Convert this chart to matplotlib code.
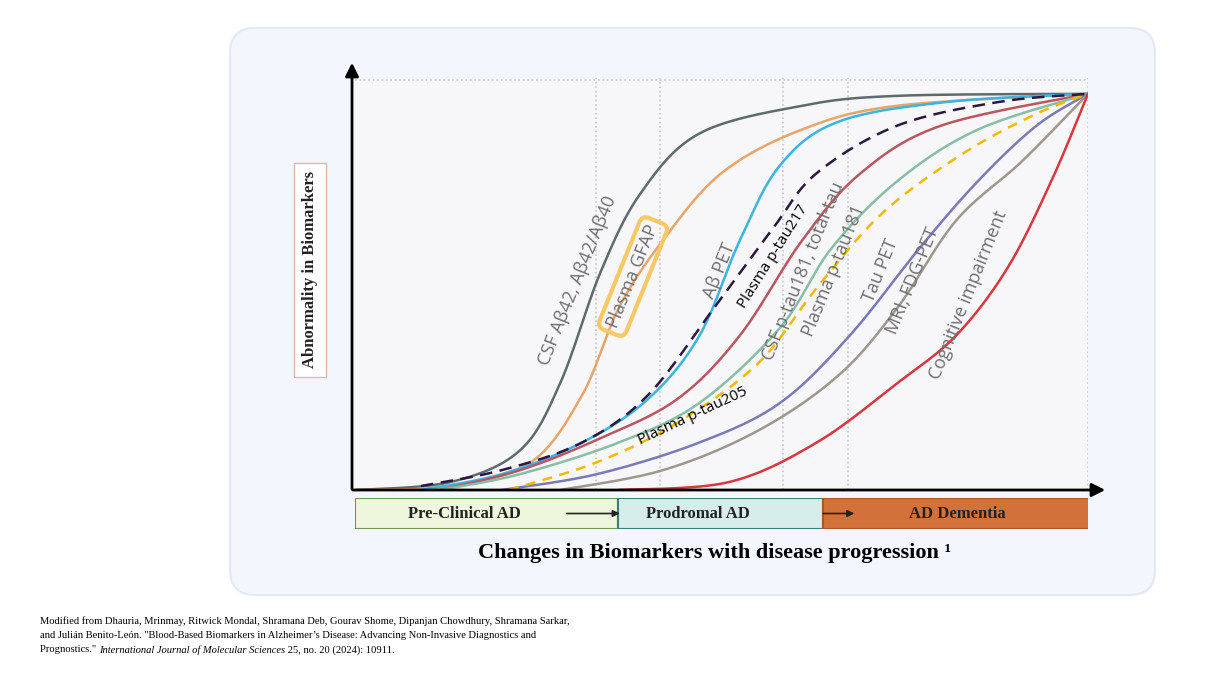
import matplotlib

matplotlib.use("Agg")
import matplotlib.pyplot as plt
import numpy as np
from matplotlib.patches import FancyArrowPatch, FancyBboxPatch, Rectangle

# curve points: x = disease progression (0-100), y = abnormality (0-100)
csf_abeta_x = [0, 13, 22.5, 28, 33.5, 39, 47, 61, 74, 100]
csf_abeta_y = [0, 2, 10, 27, 55, 75, 90, 97, 99.5, 100]
gfap_x = [0, 13, 24, 31, 36, 42, 50, 61, 74, 100]
gfap_y = [0, 1, 7, 24, 46, 63, 80, 91, 97, 100]
abeta_pet_x = [9, 20, 31, 40, 47, 52.5, 58, 66, 81, 100]
abeta_pet_y = [0, 4, 12, 23, 39, 63, 82, 93, 98, 100]
ptau217_x = [9, 20, 31, 40, 49, 57, 63, 74, 88, 100]
ptau217_y = [1, 5, 12, 24, 46, 66, 80, 92, 98, 100]
csf_ptau181_x = [11.6, 22.5, 33.4, 44, 52.5, 61, 69, 80, 100]
csf_ptau181_y = [0, 5, 13, 23, 39, 63, 80, 92, 100]
plasma_ptau181_x = [11.6, 22.5, 36, 47, 58, 65, 74, 85, 100]
plasma_ptau181_y = [0, 4, 12, 22, 41, 61, 78, 91, 100]
ptau205_x = [21, 33, 44, 55, 63, 72, 83, 93, 100]
ptau205_y = [0, 7, 17, 32, 51, 70, 85, 95, 100]
tau_pet_x = [20, 33, 47, 58, 67.5, 77, 85, 93, 100]
tau_pet_y = [0, 4, 12, 22, 39, 61, 78, 92, 100]
mri_x = [28, 42, 55, 66, 74, 82, 91, 100]
mri_y = [0, 5, 15, 29, 46, 68, 83, 100]
cognitive_x = [36, 51, 63, 74, 82, 89, 95, 100]
cognitive_y = [0, 2, 12, 27, 39, 56, 78, 100]

stages = ["Pre-Clinical AD", "Prodromal AD", "AD Dementia"]
stage_edges = [0, 35.9, 63.8, 100.5]
guide_lines = [32.9, 41.6, 58.4, 67.2]

citation = [
    "Modified from Dhauria, Mrinmay, Ritwick Mondal, Shramana Deb, Gourav Shome, Dipanjan Chowdhury, Shramana Sarkar,",
    "and Julián Benito-León. \"Blood-Based Biomarkers in Alzheimer\u2019s Disease: Advancing Non-Invasive Diagnostics and",
]
citation_last = ["Prognostics.\" ", "International Journal of Molecular Sciences", " 25, no. 20 (2024): 10911."]


def smooth(xs, ys, n=20):
    # catmull-rom through the read points, just for drawing
    p = np.column_stack([xs, ys]).astype(float)
    p = np.vstack([p[0], p, p[-1]])
    out = []
    for i in range(1, len(p) - 2):
        p0, p1, p2, p3 = p[i - 1], p[i], p[i + 1], p[i + 2]
        t = np.linspace(0, 1, n, endpoint=False)[:, None]
        out.append(0.5 * (2 * p1 + (-p0 + p2) * t + (2 * p0 - 5 * p1 + 4 * p2 - p3) * t ** 2
                          + (-p0 + 3 * p1 - 3 * p2 + p3) * t ** 3))
    out.append(p[-2][None, :])
    out = np.vstack(out)
    return out[:, 0], out[:, 1]


W, H = 1224, 676
fig = plt.figure(figsize=(12.24, 6.76), dpi=100)
fig.patch.set_facecolor("white")

# background card as its own axes so it sits under everything
bg = fig.add_axes([0, 0, 1, 1], zorder=-10)
bg.set_xlim(0, W)
bg.set_ylim(H, 0)
bg.axis("off")
bg.add_patch(FancyBboxPatch((230, 28), 925, 567, boxstyle="round,pad=0,rounding_size=25",
                            facecolor="#f3f6fc", edgecolor="#e2e8f4", linewidth=1.5))

ax = fig.add_axes([355 / W, 1 - 490 / H, 733 / W, 412 / H])
ax.set_facecolor("#f7f7f9")
ax.set_xlim(0, 100)
ax.set_ylim(0, 104)
for s in ax.spines.values():
    s.set_visible(False)
ax.set_xticks([])
ax.set_yticks([])

for gx in guide_lines:
    ax.axvline(gx, color="#c8c8c8", linestyle=":", linewidth=1.2)
ax.axhline(103.5, color="#c8c8c8", linestyle=":", linewidth=1.2)
ax.axvline(100, color="#c8c8c8", linestyle=":", linewidth=1.2)

series = [
    (csf_abeta_x, csf_abeta_y, "#5d6a6e", "-"),
    (gfap_x, gfap_y, "#e8a56a", "-"),
    (abeta_pet_x, abeta_pet_y, "#3bb4e0", "-"),
    (csf_ptau181_x, csf_ptau181_y, "#bb5560", "-"),
    (plasma_ptau181_x, plasma_ptau181_y, "#86bfa5", "-"),
    (tau_pet_x, tau_pet_y, "#7c79b8", "-"),
    (mri_x, mri_y, "#9d978d", "-"),
    (cognitive_x, cognitive_y, "#d9363e", "-"),
    (ptau205_x, ptau205_y, "#f5b800", (0, (4, 3))),
    (ptau217_x, ptau217_y, "#2b1840", (0, (5, 3))),
]
for xs, ys, color, ls in series:
    sx, sy = smooth(xs, ys)
    ax.plot(sx, sy, color=color, linestyle=ls, linewidth=1.8, solid_capstyle="round")


def px(x, y):
    return (x - 355) / 7.33, (490 - y) / 4.12 * 1.0


gray = "#6e6e6e"
labels = [
    ("CSF A\u03b242, A\u03b242/A\u03b240", 578, 272, 68, gray, 13),
    ("A\u03b2 PET", 720, 262, 68, gray, 13),
    ("CSF p-tau181, total-tau", 803, 262, 68, gray, 13),
    ("Plasma p-tau181", 834, 262, 68, gray, 13),
    ("Tau PET", 881, 262, 68, gray, 13),
    ("MRI, FDG-PET", 913, 272, 68, gray, 13),
    ("Cognitive impairment", 968, 287, 68, gray, 13),
    ("Plasma p-tau217", 773, 247, 58, "black", 11),
    ("Plasma p-tau205", 693, 413, 25, "black", 11),
]
for text, x, y, rot, color, size in labels:
    ax.text(*px(x, y), text, rotation=rot, color=color, fontsize=size,
            ha="center", va="center", family="Open Sans", rotation_mode="anchor")
ax.text(*px(633, 268), "Plasma GFAP", rotation=68, color=gray, fontsize=13,
        ha="center", va="center", family="Open Sans", rotation_mode="anchor",
        bbox=dict(boxstyle="round,pad=0.3,rounding_size=0.4", facecolor="none",
                  edgecolor="#f8c865", linewidth=3))

# axis arrows
fig.add_artist(FancyArrowPatch(
    (352 / W, 1 - 492 / H), (352 / W, 1 - 60 / H), transform=fig.transFigure,
    arrowstyle="-|>,head_length=8,head_width=4", color="black", linewidth=2))
fig.add_artist(FancyArrowPatch(
    (350 / W, 1 - 490 / H), (1108 / W, 1 - 490 / H), transform=fig.transFigure,
    arrowstyle="-|>,head_length=8,head_width=4", color="black", linewidth=2))

# stage bar
sax = fig.add_axes([355 / W, 1 - 529 / H, 733 / W, 31 / H])
sax.set_xlim(0, 100)
sax.set_ylim(0, 1)
sax.axis("off")
fills = ["#eef6dd", "#d6edeb", "#d2723a"]
edges = ["#6f955a", "#3f7d7a", "#a35a2c"]
for i, name in enumerate(stages):
    x0, x1 = stage_edges[i], stage_edges[i + 1]
    sax.add_patch(Rectangle((x0, 0), x1 - x0, 1, facecolor=fills[i], edgecolor=edges[i], linewidth=1.5))
    sax.text((x0 + x1) / 2 - (3 if i < 2 else 0), 0.5, name, ha="center", va="center",
             fontsize=12, fontweight="bold", family="Liberation Serif", color="#222222")
for xa, xb in [(28.5, 36.5), (63.5, 68.5)]:
    sax.annotate("", xy=(xb, 0.5), xytext=(xa, 0.5),
                 arrowprops=dict(arrowstyle="-|>", color="#222222", lw=1.2))

fig.text(715 / W, 1 - 553 / H, "Changes in Biomarkers with disease progression \u00b9",
         ha="center", va="center", fontsize=16, fontweight="bold", family="Liberation Serif")

fig.text(310 / W, 1 - 270 / H, "Abnormality in Biomarkers", rotation=90, ha="center", va="center",
         fontsize=12, fontweight="bold", family="Liberation Serif", color="#222222",
         bbox=dict(boxstyle="square,pad=0.5", facecolor="white", edgecolor="#d9b9b0"))

for i, line in enumerate(citation):
    fig.text(40 / W, 1 - (621 + i * 14.5) / H, line, ha="left", va="center",
             fontsize=7.6, family="Liberation Serif")
t = fig.text(40 / W, 1 - (621 + 2 * 14.5) / H, citation_last[0], ha="left", va="center",
             fontsize=7.6, family="Liberation Serif")
for j, part in enumerate(citation_last[1:]):
    t = bg.annotate(part, xycoords=t, xy=(1, 0.5), va="center", ha="left",
                    fontsize=7.6, family="Liberation Serif", style="italic" if j == 0 else "normal")

fig.savefig("out.png", dpi=100)
